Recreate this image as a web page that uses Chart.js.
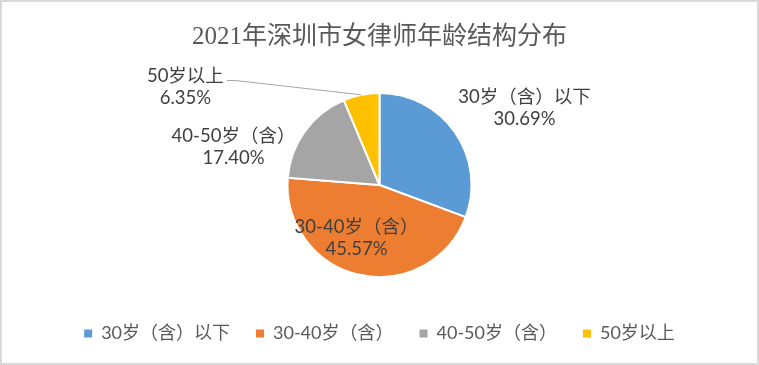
<!DOCTYPE html>
<html>
<head>
<meta charset="utf-8">
<script src="https://cdn.jsdelivr.net/npm/chart.js@4"></script>
<style>
  html, body { margin: 0; padding: 0; background: #fff; }
  #wrap { position: relative; width: 759px; height: 365px; }
  #frame { position: absolute; inset: 0; border: 2px solid #d9d9d9; pointer-events: none; }
</style>
</head>
<body>
<div id="wrap"><canvas id="chart"></canvas><div id="frame"></div></div>
<script>
// ---------- Data ----------
const chartTitle = "2021年深圳市女律师年龄结构分布";
const categories = ["30岁（含）以下", "30-40岁（含）", "40-50岁（含）", "50岁以上"];
const shares = [30.69, 45.57, 17.40, 6.35];
const colors = ["#5b9bd5", "#ed7d31", "#a5a5a5", "#ffc000"];

// ---------- Label placement ----------
// block centre relative to the pie centre, in units of the pie radius
const labelSpots = [[1.576, -0.842], [-0.25, 0.571], [-1.587, -0.418], [-2.11, -1.07]];
const leaders = [false, false, false, true];
const SANS = "Lato, 'Noto Sans CJK SC', sans-serif";

const pieLabels = {
  id: "pieLabels",
  afterDatasetsDraw(chart) {
    const ctx = chart.ctx;
    const arcs = chart.getDatasetMeta(0).data;
    const lh = 22;
    ctx.save();
    ctx.font = `18.5px ${SANS}`;
    ctx.textAlign = "center";
    ctx.textBaseline = "middle";
    arcs.forEach((arc, i) => {
      const { x, y, outerRadius: r, startAngle, endAngle } =
        arc.getProps(["x", "y", "outerRadius", "startAngle", "endAngle"], true);
      const cx = x + labelSpots[i][0] * r;
      const cy = y + labelSpots[i][1] * r;
      const lines = [categories[i], shares[i].toFixed(2) + "%"];
      ctx.fillStyle = "#404040";
      lines.forEach((t, k) => ctx.fillText(t, cx, cy + (k - 0.5) * lh));
      if (leaders[i]) {
        const w = ctx.measureText(lines[0]).width;
        const mid = (startAngle + endAngle) / 2;
        const sx = cx + w / 2 + 3, sy = cy - lh / 2 + 5;
        ctx.strokeStyle = "#a6a6a6";
        ctx.lineWidth = 1;
        ctx.beginPath();
        ctx.moveTo(sx, sy);
        ctx.lineTo(sx + 9, sy);
        ctx.lineTo(x + Math.cos(mid) * r, y + Math.sin(mid) * r);
        ctx.stroke();
      }
    });
    ctx.restore();
  }
};

// ---------- Chart ----------
new Chart(document.getElementById("chart"), {
  type: "pie",
  data: {
    labels: categories,
    datasets: [{
      data: shares,
      backgroundColor: colors,
      borderColor: "#ffffff",
      borderWidth: 2,
      hoverOffset: 0,
      radius: 92
    }]
  },
  options: {
    responsive: true,
    maintainAspectRatio: false,
    animation: false,
    events: [],
    layout: { padding: { bottom: 12.5 } },
    plugins: {
      title: {
        display: true,
        text: chartTitle,
        color: "#595959",
        font: { family: "'Liberation Serif', 'Noto Sans CJK SC', serif", size: 25, weight: "normal", lineHeight: 1.2 },
        padding: { top: 22, bottom: 19.5 }
      },
      legend: {
        position: "bottom",
        labels: {
          color: "#595959",
          font: { family: SANS, size: 18 },
          boxWidth: 8,
          boxHeight: 8,
          padding: 26,
          generateLabels: c => Chart.overrides.pie.plugins.legend.labels.generateLabels(c)
            .map(l => ({ ...l, lineWidth: 0 }))
        }
      },
      tooltip: { enabled: false }
    }
  },
  plugins: [pieLabels]
});
</script>
</body>
</html>
